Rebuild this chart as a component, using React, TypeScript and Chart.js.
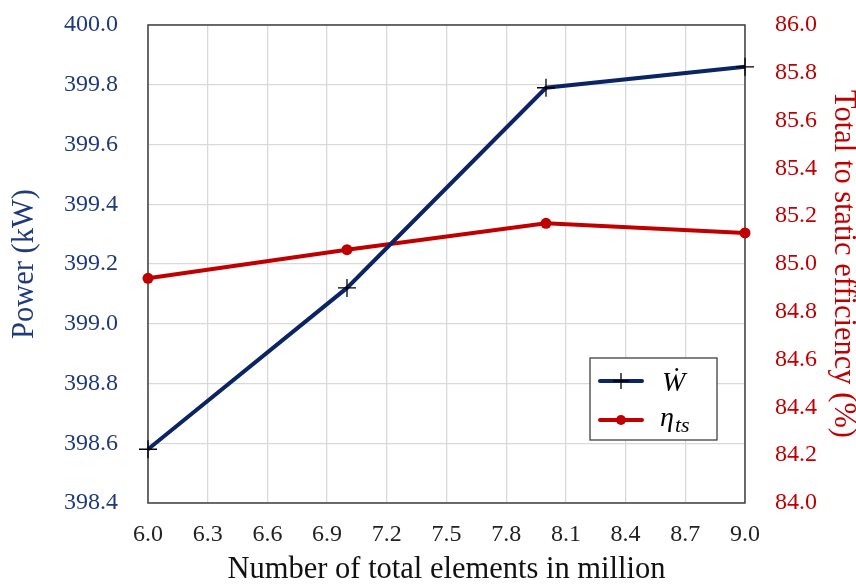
import React, { useEffect, useRef } from "react";
import { Chart, registerables } from "chart.js";

Chart.register(...registerables);

// ---- data ----
const elementsMillion = [6.0, 7.0, 8.0, 9.0];
const powerKW = [398.58, 399.12, 399.79, 399.86];
const efficiencyPct = [84.94, 85.06, 85.17, 85.13];

const xTicks = [6.0, 6.3, 6.6, 6.9, 7.2, 7.5, 7.8, 8.1, 8.4, 8.7, 9.0];
const powerTicks = [398.4, 398.6, 398.8, 399.0, 399.2, 399.4, 399.6, 399.8, 400.0];
const effTicks = [84.0, 84.2, 84.4, 84.6, 84.8, 85.0, 85.2, 85.4, 85.6, 85.8, 86.0];

const legendLabels = ["\u1E86", "\u03B7"];
const legendSub = ["", "ts"];

const BLUE = "#0b2463";
const BLUE_TEXT = "#1f3a78";
const RED = "#c00000";
const SERIF = '"Liberation Serif", "Times New Roman", serif';

const framePlugin = {
  id: "frame",
  beforeDatasetsDraw(chart: any) {
    const { ctx, chartArea } = chart;
    ctx.save();
    ctx.strokeStyle = "#404040";
    ctx.lineWidth = 1.5;
    ctx.strokeRect(chartArea.left, chartArea.top, chartArea.right - chartArea.left, chartArea.bottom - chartArea.top);
    ctx.restore();
  },
  afterDraw(chart: any) {
    const { ctx, chartArea } = chart;
    const bx = chartArea.right - 155;
    const by = chartArea.bottom - 145;
    const bw = 127;
    const bh = 82;
    ctx.save();
    ctx.fillStyle = "#ffffff";
    ctx.fillRect(bx, by, bw, bh);
    ctx.strokeStyle = "#404040";
    ctx.lineWidth = 1.3;
    ctx.strokeRect(bx, by, bw, bh);

    // entry 1
    const y1 = by + 23;
    ctx.strokeStyle = BLUE;
    ctx.lineWidth = 4;
    ctx.lineCap = "round";
    ctx.beginPath();
    ctx.moveTo(bx + 10, y1);
    ctx.lineTo(bx + 52, y1);
    ctx.stroke();
    ctx.strokeStyle = "#000";
    ctx.lineWidth = 1.3;
    ctx.lineCap = "butt";
    ctx.beginPath();
    ctx.moveTo(bx + 31, y1 - 8);
    ctx.lineTo(bx + 31, y1 + 8);
    ctx.moveTo(bx + 23, y1);
    ctx.lineTo(bx + 39, y1);
    ctx.stroke();

    // entry 2
    const y2 = by + 62;
    ctx.strokeStyle = RED;
    ctx.lineWidth = 4;
    ctx.lineCap = "round";
    ctx.beginPath();
    ctx.moveTo(bx + 10, y2);
    ctx.lineTo(bx + 52, y2);
    ctx.stroke();
    ctx.fillStyle = RED;
    ctx.beginPath();
    ctx.arc(bx + 31, y2, 5, 0, Math.PI * 2);
    ctx.fill();

    ctx.fillStyle = "#000";
    ctx.textBaseline = "alphabetic";
    ctx.textAlign = "left";
    ctx.font = `italic 28px ${SERIF}`;
    ctx.fillText(legendLabels[0], bx + 72, y1 + 10);
    ctx.fillText(legendLabels[1], bx + 70, y2 + 6);
    const w = ctx.measureText(legendLabels[1]).width;
    ctx.font = `italic 22px ${SERIF}`;
    ctx.fillText(legendSub[1], bx + 70 + w + 1, y2 + 12);
    ctx.restore();
  },
};

export default function App() {
  const ref = useRef<HTMLCanvasElement | null>(null);

  useEffect(() => {
    if (!ref.current) return;
    const chart = new Chart(ref.current, {
      type: "line",
      data: {
        datasets: [
          {
            label: "W",
            data: elementsMillion.map((x, i) => ({ x, y: powerKW[i] })),
            yAxisID: "y",
            borderColor: BLUE,
            borderWidth: 4,
            pointStyle: "cross",
            pointRadius: 9,
            pointBorderColor: "#000",
            pointBorderWidth: 1.3,
            pointBackgroundColor: "#000",
            clip: false,
            tension: 0,
          },
          {
            label: "eta",
            data: elementsMillion.map((x, i) => ({ x, y: efficiencyPct[i] })),
            yAxisID: "y1",
            borderColor: RED,
            borderWidth: 4,
            pointStyle: "circle",
            pointRadius: 5.5,
            pointBorderWidth: 0,
            pointBackgroundColor: RED,
            pointBorderColor: RED,
            clip: false,
            tension: 0,
          },
        ],
      },
      options: {
        responsive: false,
        animation: false,
        layout: { padding: { top: 25, left: 0, right: 0, bottom: 0 } },
        plugins: { legend: { display: false }, tooltip: { enabled: false } },
        scales: {
          x: {
            type: "linear",
            min: xTicks[0],
            max: xTicks[xTicks.length - 1],
            afterBuildTicks: (s: any) => {
              s.ticks = xTicks.map((v) => ({ value: v }));
            },
            afterFit: (s: any) => {
              s.height = 82;
            },
            grid: { color: "#d9d9d9", lineWidth: 1.3, drawTicks: false },
            border: { display: false },
            ticks: {
              padding: 17,
              color: "#222",
              font: { family: SERIF, size: 24 },
              callback: (v: any) => Number(v).toFixed(1),
              maxRotation: 0,
              autoSkip: false,
            },
            title: {
              display: true,
              text: "Number of total elements in million",
              color: "#111",
              font: { family: SERIF, size: 30.5, lineHeight: 1 },
              padding: { top: 3, bottom: 0 },
            },
          },
          y: {
            type: "linear",
            position: "left",
            min: powerTicks[0],
            max: powerTicks[powerTicks.length - 1],
            afterBuildTicks: (s: any) => {
              s.ticks = powerTicks.map((v) => ({ value: v }));
            },
            afterFit: (s: any) => {
              s.width = 148;
              s.paddingTop = 14;
              s.paddingBottom = 14;
            },
            grid: { color: "#d9d9d9", lineWidth: 1.3, drawTicks: false },
            border: { display: false },
            ticks: {
              padding: 30,
              color: BLUE_TEXT,
              font: { family: SERIF, size: 24 },
              callback: (v: any) => Number(v).toFixed(1),
              autoSkip: false,
            },
            title: {
              display: true,
              text: "Power (kW)",
              color: BLUE_TEXT,
              font: { family: SERIF, size: 30.5, lineHeight: 1 },
              padding: { top: 10, bottom: 0 },
            },
          },
          y1: {
            type: "linear",
            position: "right",
            min: effTicks[0],
            max: effTicks[effTicks.length - 1],
            afterBuildTicks: (s: any) => {
              s.ticks = effTicks.map((v) => ({ value: v }));
            },
            afterFit: (s: any) => {
              s.width = 111;
              s.paddingTop = 14;
              s.paddingBottom = 14;
            },
            grid: { display: false, drawTicks: false },
            border: { display: false },
            ticks: {
              padding: 30,
              color: RED,
              font: { family: SERIF, size: 24 },
              callback: (v: any) => Number(v).toFixed(1),
              autoSkip: false,
            },
            title: {
              display: true,
              text: "Total to static efficiency (%)",
              color: RED,
              font: { family: SERIF, size: 30.5, lineHeight: 1 },
              padding: { top: -2, bottom: 0 },
            },
          },
        },
      },
      plugins: [framePlugin],
    } as any);
    return () => chart.destroy();
  }, []);

  return (
    <div style={{ position: "absolute", left: 0, top: 0, width: 856, height: 585, background: "#fff" }}>
      <canvas ref={ref} width={856} height={585} style={{ display: "block" }} />
    </div>
  );
}
